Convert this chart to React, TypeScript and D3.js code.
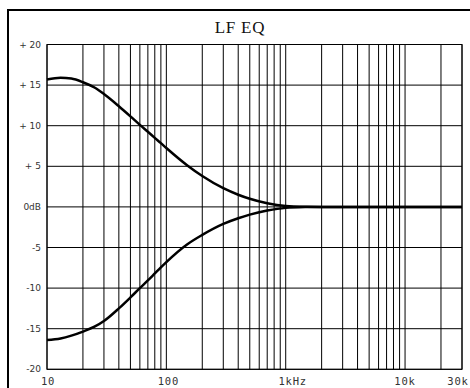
import React from "react";
import * as d3 from "d3";

const title = "LF EQ";
const xTickValues = [10, 100, 1000, 10000, 30000];
const xTickLabels = ["10", "100", "1kHz", "10k", "30k"];
const yTickValues = [20, 15, 10, 5, 0, -5, -10, -15, -20];
const yTickLabels = ["+ 20", "+ 15", "+ 10", "+ 5", "0dB", "-5", "-10", "-15", "-20"];
const gridFreqs = [
  10, 20, 30, 40, 50, 60, 70, 80, 90,
  100, 200, 300, 400, 500, 600, 700, 800, 900,
  1000, 2000, 3000, 4000, 5000, 6000, 7000, 8000, 9000,
  10000, 20000, 30000,
];

const freqs = [10, 13, 16, 20, 25, 30, 40, 50, 60, 70, 80, 90, 100, 150, 200, 300, 400, 500, 700, 1000, 1500, 2000, 30000];
const boostDb = [15.7, 15.9, 15.8, 15.35, 14.7, 13.9, 12.4, 11.15, 10.1, 9.25, 8.5, 7.85, 7.25, 5.1, 3.8, 2.3, 1.5, 1.0, 0.45, 0.12, 0.02, 0.0, 0.0];
const cutDb = [-16.4, -16.2, -15.85, -15.35, -14.75, -14.05, -12.5, -11.15, -10.0, -9.05, -8.2, -7.45, -6.8, -4.6, -3.45, -2.1, -1.4, -0.95, -0.45, -0.12, -0.02, 0.0, 0.0];

const W = 470;
const H = 388;
const left = 47;
const right = 462;
const top = 44.5;
const bottom = 369.3;

export default function App() {
  const x = d3.scaleLog().domain([10, 30000]).range([left, right]);
  const y = d3.scaleLinear().domain([-20, 20]).range([bottom, top]);
  const line = d3
    .line<[number, number]>()
    .x((d) => x(d[0]))
    .y((d) => y(d[1]))
    .curve(d3.curveMonotoneX);
  const boostPath = line(freqs.map((f, i) => [f, boostDb[i]] as [number, number])) || "";
  const cutPath = line(freqs.map((f, i) => [f, cutDb[i]] as [number, number])) || "";
  const labelFont = "'DejaVu Sans', sans-serif";
  const xLabelFont = "'DejaVu Sans Mono', monospace";
  const xLabelShift: Record<string, number> = { "10": 1, "100": 2, "1kHz": 7, "10k": 0, "30k": -4 };

  return (
    <svg
      width={W}
      height={H}
      style={{ position: "absolute", left: 0, top: 0, background: "#fff" }}
    >
      <rect x={0} y={0} width={W} height={H} fill="#fff" />
      <rect x={8} y={10} width={W + 20} height={H + 20} fill="none" stroke="#000" strokeWidth={2} />
      <text
        x={240}
        y={32.5}
        textAnchor="middle"
        fontFamily="'Liberation Serif', 'Times New Roman', serif"
        fontSize={17}
        letterSpacing={0.8}
        fill="#111"
      >
        {title}
      </text>
      {gridFreqs.map((f) => (
        <line key={"v" + f} x1={x(f)} x2={x(f)} y1={top} y2={bottom} stroke="#000" strokeWidth={1} />
      ))}
      {yTickValues.map((v) => (
        <line key={"h" + v} x1={left} x2={right} y1={y(v)} y2={y(v)} stroke="#000" strokeWidth={1} />
      ))}
      <rect x={left} y={top} width={right - left} height={bottom - top} fill="none" stroke="#000" strokeWidth={1} />
      {yTickValues.map((v, i) => (
        <text
          key={"yl" + v}
          x={41}
          y={y(v)}
          dy="0.35em"
          textAnchor="end"
          fontFamily={labelFont}
          fontSize={9}
          fill="#333"
        >
          {yTickLabels[i]}
        </text>
      ))}
      {xTickValues.map((v, i) => (
        <text
          key={"xl" + v}
          x={x(v) + (xLabelShift[xTickLabels[i]] || 0)}
          y={381}
          dy="0.35em"
          textAnchor="middle"
          fontFamily={xLabelFont}
          fontSize={10.5}
          letterSpacing={0.8}
          fill="#333"
        >
          {xTickLabels[i]}
        </text>
      ))}
      <path d={boostPath} fill="none" stroke="#000" strokeWidth={2.5} strokeLinejoin="round" />
      <path d={cutPath} fill="none" stroke="#000" strokeWidth={2.5} strokeLinejoin="round" />
    </svg>
  );
}
